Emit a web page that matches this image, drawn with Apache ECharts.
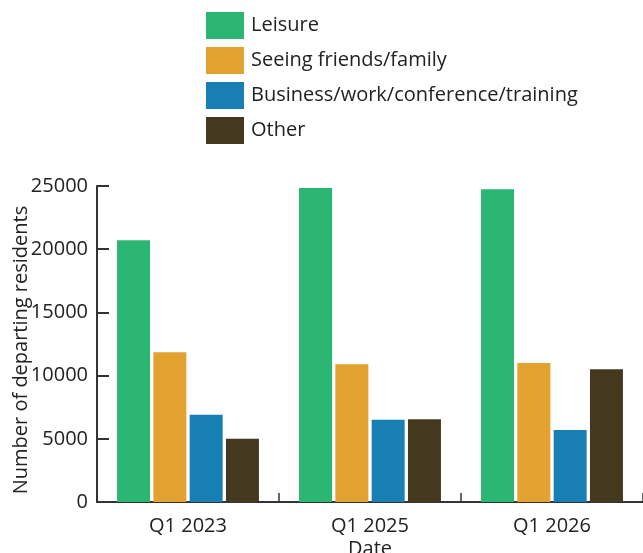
<!DOCTYPE html>
<html>
<head>
<meta charset="utf-8">
<script src="https://cdn.jsdelivr.net/npm/echarts@6/dist/echarts.min.js"></script>
<style>html,body{margin:0;padding:0;background:#fff}#c{width:643px;height:553px}</style>
</head>
<body>
<div id="c"></div>
<script>
const categories = ["Q1 2023", "Q1 2025", "Q1 2026"];
const leisure = [20700, 24850, 24750];
const friendsFamily = [11850, 10900, 11000];
const business = [6900, 6500, 5700];
const other = [5000, 6550, 10500];
const seriesNames = ["Leisure", "Seeing friends/family", "Business/work/conference/training", "Other"];
const colors = ["#2BB673", "#E3A12F", "#187FB5", "#44391E"];
const yTicks = [0, 5000, 10000, 15000, 20000, 25000];

const font = "Open Sans";
const fs = 20;
const chart = echarts.init(document.getElementById('c'));
const values = [leisure, friendsFamily, business, other];
chart.setOption({
  animation: false,
  textStyle: {fontFamily: font},
  legend: {
    orient: 'vertical', left: 206, top: 12, padding: 0,
    itemWidth: 38, itemHeight: 27, itemGap: 8,
    icon: 'rect',
    textStyle: {fontSize: fs, color: '#222', fontFamily: font, padding: [0, 0, 0, 2]},
    data: seriesNames
  },
  grid: {left: 97, right: 0, top: 186, bottom: 51, containLabel: false, outerBoundsMode: 'none'},
  xAxis: {
    type: 'category', data: categories,
    name: 'Date', nameLocation: 'middle', nameGap: 37, nameMoveOverlap: false,
    nameTextStyle: {fontSize: fs, color: '#222'},
    axisLine: {lineStyle: {color: '#333', width: 2}},
    axisTick: {show: true, inside: true, length: 9, alignWithLabel: false, lineStyle: {color: '#333', width: 1.5}},
    axisLabel: {fontSize: fs, color: '#222', margin: 14}
  },
  yAxis: {
    type: 'value', min: yTicks[0], max: yTicks[yTicks.length - 1], interval: 5000,
    name: 'Number of departing residents', nameLocation: 'middle', nameGap: 66, nameMoveOverlap: false,
    nameTextStyle: {fontSize: fs, color: '#222', padding: [0, 12, 0, 0]},
    splitLine: {show: false},
    axisLine: {show: true, lineStyle: {color: '#333', width: 2}},
    axisTick: {show: true, inside: true, length: 12, lineStyle: {color: '#333', width: 2}},
    axisLabel: {fontSize: fs, color: '#222', margin: 9, formatter: v => String(v)}
  },
  series: seriesNames.map((n, i) => ({
    name: n, type: 'bar', data: values[i],
    itemStyle: {color: colors[i]},
    barWidth: 33, barGap: '10%'
  }))
});
</script>
</body>
</html>
